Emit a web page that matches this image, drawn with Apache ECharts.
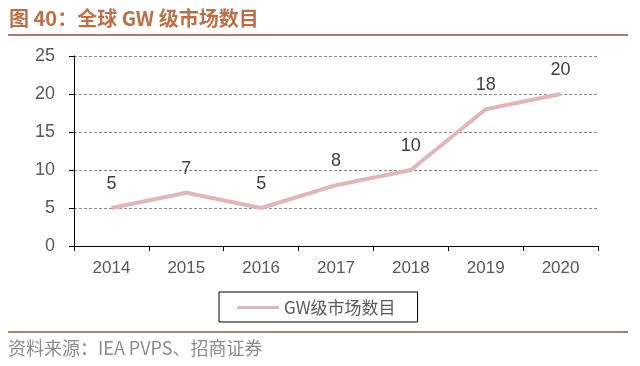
<!DOCTYPE html>
<html><head><meta charset="utf-8">
<script src="https://cdn.jsdelivr.net/npm/echarts@6/dist/echarts.min.js"></script>
<style>html,body{margin:0;padding:0;background:#fff}#c{width:640px;height:366px}</style>
</head><body><div id="c"></div>
<script>
const categories = ['2014','2015','2016','2017','2018','2019','2020'];
const values = [5, 7, 5, 8, 10, 18, 20];
const seriesName = 'GW级市场数目';
const titleText = '图 40：全球 GW 级市场数目';
const sourceText = '资料来源：IEA PVPS、招商证券';

const chart = echarts.init(document.getElementById('c'));
const font = '"Noto Sans CJK SC", sans-serif';
const latin = '"Liberation Sans", Arial, sans-serif';
chart.setOption({
  animation: false,
  textStyle: { fontFamily: font },
  grid: { left: 74, right: 42, top: 56, bottom: 120 },
  xAxis: {
    type: 'category', data: categories, boundaryGap: true,
    axisLine: { lineStyle: { color: '#000', width: 1 } },
    axisTick: { show: true, length: 5, lineStyle: { color: '#000' } },
    axisLabel: { color: '#595959', fontSize: 17, fontFamily: latin, margin: 14 }
  },
  yAxis: {
    type: 'value', min: 0, max: 25, interval: 5,
    axisLine: { show: true, lineStyle: { color: '#000', width: 1 } },
    axisTick: { show: true, length: 5, lineStyle: { color: '#000' } },
    axisLabel: { color: '#595959', fontSize: 18, fontFamily: latin, margin: 19 },
    splitLine: { lineStyle: { color: '#8c8c8c', type: [3, 2], width: 1 } }
  },
  legend: {
    left: 219, top: 292, data: [seriesName],
    borderColor: '#000', borderWidth: 1,
    padding: [7, 22, 6, 18],
    itemWidth: 42, itemHeight: 10, itemGap: 4,
    icon: 'path://M0,4 L42,4 L42,7 L0,7 Z',
    itemStyle: { color: '#dfb7ba', opacity: 1 },
    textStyle: { color: '#595959', fontSize: 17, fontFamily: font }
  },
  series: [{
    name: seriesName, type: 'line', data: values,
    symbol: 'circle', symbolSize: 2, showSymbol: true,
    lineStyle: { color: '#dfb7ba', width: 4 },
    itemStyle: { color: 'rgba(223,183,186,0)', borderWidth: 0 },
    label: { show: true, position: 'top', distance: 14, color: '#404040', fontSize: 18, fontFamily: latin }
  }],
  graphic: [
    { type: 'text', left: 9, top: 8, style: { text: titleText, fill: '#b8714a', font: 'bold 20px ' + font } },
    { type: 'rect', shape: { x: 8, y: 34, width: 620, height: 2 }, style: { fill: '#a87f6f' } },
    { type: 'rect', shape: { x: 8, y: 331, width: 620, height: 2 }, style: { fill: '#a87f6f' } },
    { type: 'text', left: 8, top: 339, style: { text: sourceText, fill: '#8c8c8c', font: '18px ' + font } }
  ]
});
</script></body></html>
